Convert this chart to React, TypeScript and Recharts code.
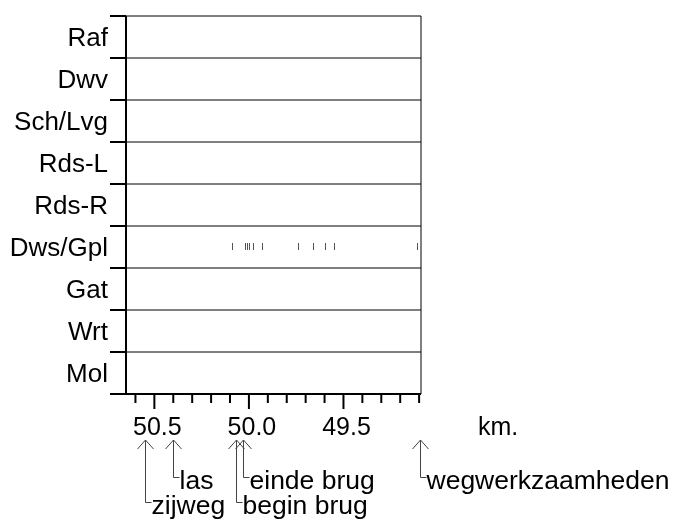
import React from 'react';
import {
  ScatterChart,
  Scatter,
  XAxis,
  YAxis,
  ReferenceLine,
  ReferenceArea,
  Label,
} from 'recharts';

// ---- data ----
const rows = ['Raf', 'Dwv', 'Sch/Lvg', 'Rds-L', 'Rds-R', 'Dws/Gpl', 'Gat', 'Wrt', 'Mol'];
const kmDomain = [49.09, 50.65];
const kmTicks = [50.6, 50.5, 50.4, 50.3, 50.2, 50.1, 50.0, 49.9, 49.8, 49.7, 49.6, 49.5, 49.4, 49.3, 49.2, 49.1];
const kmLabelled = [50.5, 50.0, 49.5];
const kmUnit = 'km.';
const dwsGplMarks = [50.09, 50.02, 50.01, 50.0, 49.98, 49.93, 49.74, 49.66, 49.6, 49.55, 49.11];
const markRow = 'Dws/Gpl';
const annotationKm = [50.55, 50.4, 50.07, 50.03, 49.095];
const annotationLabels = ['zijweg', 'las', 'begin brug', 'einde brug', 'wegwerkzaamheden'];
const annotationLevel = [2, 1, 2, 1, 1];

const FONT = '"Liberation Sans", Arial, sans-serif';
const FS = 25;
const FS_ROW = 26;
const FS_ANN = 26.5;

const rowCount = rows.length;
const rowBoundaries = Array.from({ length: rowCount + 1 }, (_, i) => i);
const rowCenters = rows.map((_, i) => rowCount - i - 0.5);
const markY = rowCount - rows.indexOf(markRow) - 0.5;
const markData = dwsGplMarks.map((km) => ({ km, y: markY }));

const near = (a: number, b: number) => Math.abs(a - b) < 1e-6;

const KmTick = (props: any) => {
  const { x, y, payload } = props;
  const major = kmLabelled.some((v) => near(v, payload.value));
  return (
    <g>
      <line x1={x} x2={x} y1={y} y2={y + (major ? 15 : 9)} stroke="#000" strokeWidth={2} />
      {major && (
        <text x={x + 3} y={y + 41} textAnchor="middle" fontSize={FS} fontFamily={FONT} fill="#000">
          {payload.value.toFixed(1)}
        </text>
      )}
    </g>
  );
};

const KmLabel = (p: any) => {
  const vb = p.viewBox || {};
  return (
    <text x={vb.x + vb.width + 57} y={vb.y + 41} fontSize={FS} fontFamily={FONT} fill="#000">
      {kmUnit}
    </text>
  );
};

const makeAnnShape = (i: number) => (props: any) => {
  const x = props.x1;
  const y = Math.max(props.y1, props.y2) + 46;
  const drop = annotationLevel[i] === 1 ? 37 : 62;
  const x5 = Math.round(x) + 0.5;
  return (
    <g>
      <polyline points={`${x5 - 8},${y + 9} ${x5},${y} ${x5 + 8},${y + 9}`} fill="none" stroke="#444" strokeWidth={1} />
      <line x1={x5} x2={x5} y1={y} y2={y + drop + 0.5} stroke="#444" strokeWidth={1} />
      <line x1={x5} x2={x5 + 6} y1={y + drop + 0.5} y2={y + drop + 0.5} stroke="#444" strokeWidth={1} />
      <text x={x5 + 6} y={y + drop + 12} fontSize={FS_ANN} fontFamily={FONT} fill="#000">
        {annotationLabels[i]}
      </text>
    </g>
  );
};
const annShapes = annotationKm.map((_, i) => makeAnnShape(i));

const MarkShape = (props: any) => {
  const { cx, cy } = props;
  const x5 = Math.round(cx) + 0.5;
  return <line x1={x5} x2={x5} y1={cy - 4} y2={cy + 3} stroke="#555" strokeWidth={1} />;
};

const emptyLabel = () => '';
const rowLabel = (v: number) => rows[Math.round(rowCount - 0.5 - v)];

export default function App() {
  return (
    <div style={{ position: 'fixed', left: 0, top: 0, fontFamily: FONT }}>
      <ScatterChart width={676} height={522} margin={{ top: 16, right: 255, bottom: 0, left: 2 }}>
        <XAxis
          xAxisId="km"
          type="number"
          dataKey="km"
          domain={kmDomain}
          allowDataOverflow
          reversed
          ticks={kmTicks}
          interval={0}
          height={128}
          tickSize={0}
          tickMargin={0}
          tickLine={false}
          axisLine={{ stroke: '#000', strokeWidth: 2 }}
          tick={<KmTick />}
          label={<Label content={KmLabel} />}
        />
        <YAxis
          yAxisId="grid"
          type="number"
          dataKey="y"
          domain={[0, rowCount]}
          allowDataOverflow
          ticks={rowBoundaries}
          interval={0}
          width={16}
          tickSize={16}
          tickMargin={0}
          tickFormatter={emptyLabel}
          tickLine={{ stroke: '#000', strokeWidth: 2 }}
          axisLine={{ stroke: '#000', strokeWidth: 2 }}
        />
        <YAxis
          yAxisId="lab"
          type="number"
          domain={[0, rowCount]}
          allowDataOverflow
          ticks={rowCenters}
          interval={0}
          width={108}
          tickSize={0}
          tickMargin={2}
          tickLine={false}
          axisLine={false}
          tick={{ fill: '#000', fontSize: FS_ROW, fontFamily: FONT }}
          tickFormatter={rowLabel}
        />
        <ReferenceArea
          xAxisId="km"
          yAxisId="grid"
          x1={kmDomain[1]}
          x2={kmDomain[0]}
          y1={0}
          y2={rowCount}
          fill="none"
          fillOpacity={0}
          stroke="#000"
          strokeWidth={1}
        />
        {rowBoundaries.slice(1, rowCount).map((b) => (
          <ReferenceLine key={b} xAxisId="km" yAxisId="grid" y={b} stroke="#000" strokeWidth={1} />
        ))}
        {annotationKm.map((km, i) => (
          <ReferenceLine key={'a' + i} xAxisId="km" yAxisId="grid" x={km} stroke="none" shape={annShapes[i]} />
        ))}
        <Scatter
          xAxisId="km"
          yAxisId="grid"
          data={markData}
          dataKey="y"
          shape={<MarkShape />}
          isAnimationActive={false}
        />
      </ScatterChart>
    </div>
  );
}
